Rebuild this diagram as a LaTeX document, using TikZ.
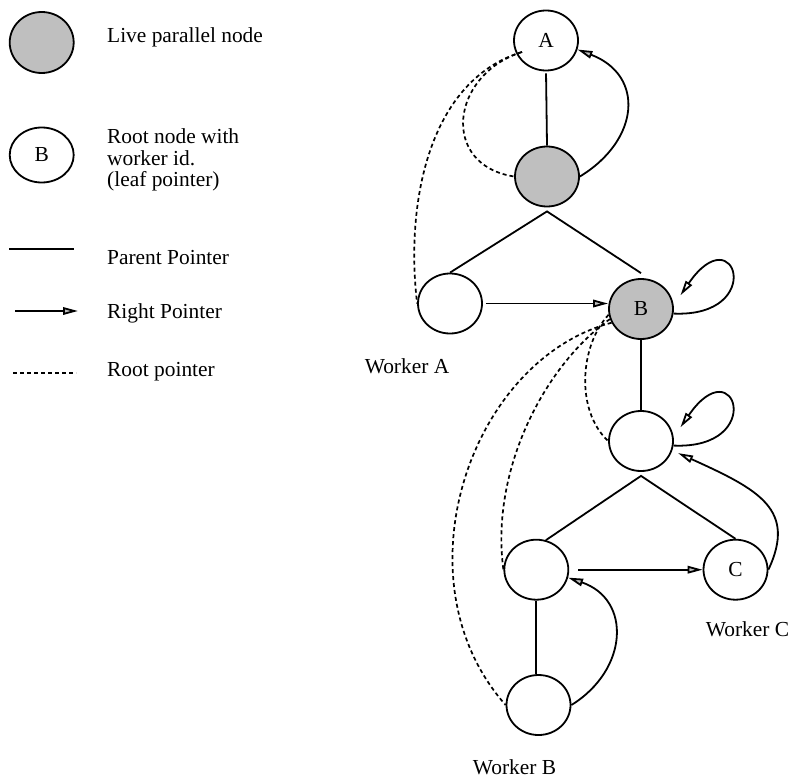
\documentclass[tikz,border=0pt]{standalone}
\usepackage{fontspec}
\setmainfont{Liberation Serif}
\usetikzlibrary{shapes.geometric,arrows.meta,calc}

\begin{document}
\begin{tikzpicture}[x=1pt,y=-1pt,
  every node/.style={font=\fontsize{21.4}{21.5}\selectfont},
  treenode/.style={ellipse,draw,line width=1.8pt,minimum width=64pt,minimum height=60pt,inner sep=0pt},
  live/.style={treenode,fill=lightgray},
  parent/.style={line width=1.8pt},
  rootptr/.style={line width=1.7pt,dash pattern=on 4pt off 3pt},
  rightptr/.style={line width=1.8pt,-{Triangle[length=15pt,width=7.5pt,fill=lightgray]}},
  loopptr/.style={line width=1.8pt,-{Triangle[length=15pt,width=7.5pt,fill=white]}},
  legendtext/.style={anchor=base west,inner sep=0pt}]

\useasboundingbox (0,0) rectangle (791,778);

% ---------- key ----------
\node[live,minimum height=61pt] (keylive) at (41.7,42.5) {};
\node[legendtext] (keylivetext) at (107,43) {Live parallel node};
\node[treenode,minimum height=55pt] (keyroot) at (41.7,155) {B};
\node[anchor=north west,inner sep=0pt,align=left] (keyroottext) at (107,128.7)
  {Root node with\\worker id.\\(leaf pointer)};

\coordinate (kp1) at (9,249);  \coordinate (kp2) at (74,249);
\draw[parent] (kp1) -- (kp2);
\node[legendtext] (kptext) at (107,264) {Parent Pointer};

\coordinate (kr1) at (15,311); \coordinate (kr2) at (78,311);
\draw[rightptr] (kr1) -- (kr2);
\node[legendtext] (krtext) at (107,318) {Right Pointer};

\coordinate (kd1) at (13,373); \coordinate (kd2) at (76,373);
\draw[rootptr] (kd1) -- (kd2);
\node[legendtext] (kdtext) at (107,376) {Root pointer};

% ---------- tree ----------
\node[treenode] (A)  at (546,40.5)    {A};
\node[live]     (P)  at (547,176.5)   {};
\node[treenode] (LA) at (450,303.5)   {};
\node[live]     (B)  at (641,309)     {B};
\node[treenode] (M)  at (641,441)     {};
\node[treenode] (LB) at (536.3,569.7) {};
\node[treenode] (C)  at (735.5,569.7) {C};
\node[treenode] (BB) at (538.5,705)   {};

\node (wa) at (407,366.5)   {Worker A};
\node (wb) at (514.5,767.5) {Worker B};
\node (wc) at (747.5,629.5) {Worker C};

% parent pointers
\draw[parent,shorten <=2pt] (A.south) -- (P.north);
\coordinate (apex1) at ($(P.south)+(0,4)$);
\draw[parent] (LA.north) -- (apex1) -- ($(B.north)+(0,-5)$);
\draw[parent] (B.south) -- (M.north);
\coordinate (apex2) at ($(M.south)+(0,4)$);
\draw[parent] (LB.72) -- (apex2) -- (C.north);
\draw[parent] (LB.south) -- (LB.south |- BB.north);

% right pointers
\draw[rightptr,shorten <=3pt] (LA.east) -- (LA.east -| B.west);
\draw[rightptr,shorten <=9pt] (LB.east) -- (C.west);
\draw[rightptr] (P.east) .. controls +(60,-36.5) and +(67.5,25.8) .. (A.-16);
\draw[rightptr] (BB.east) .. controls +(56.75,-35) and +(64,22) .. (LB.-14);
\draw[loopptr] (B.-8) .. controls +(93,4) and +(55,-80) .. ($(B.25)+(10,0)$);
\draw[loopptr] (M.-8) .. controls +(93,4) and +(55,-80) .. ($(M.25)+(10,0)$);
\draw[loopptr] (C.east) .. controls +(28,-60) and +(82,37) .. ($(M.-18)+(6,2)$);

% root pointers
\coordinate (Aroot) at ($(A.center)+(-24,11.5)$);
\draw[rootptr] (Aroot) .. controls (430,80) and (405,200) .. (LA.west);
\draw[rootptr] (Aroot) .. controls (450,75) and (440,165) .. (P.west);
\draw[rootptr] (B.190) .. controls (580,345) and (575,410) .. (M.west);
\draw[rootptr] (B.198) .. controls (545,365) and (490,470) .. (LB.west);
\draw[rootptr] (B.205) .. controls (470,360) and (395,580) .. (BB.west);

\end{tikzpicture}
\end{document}
